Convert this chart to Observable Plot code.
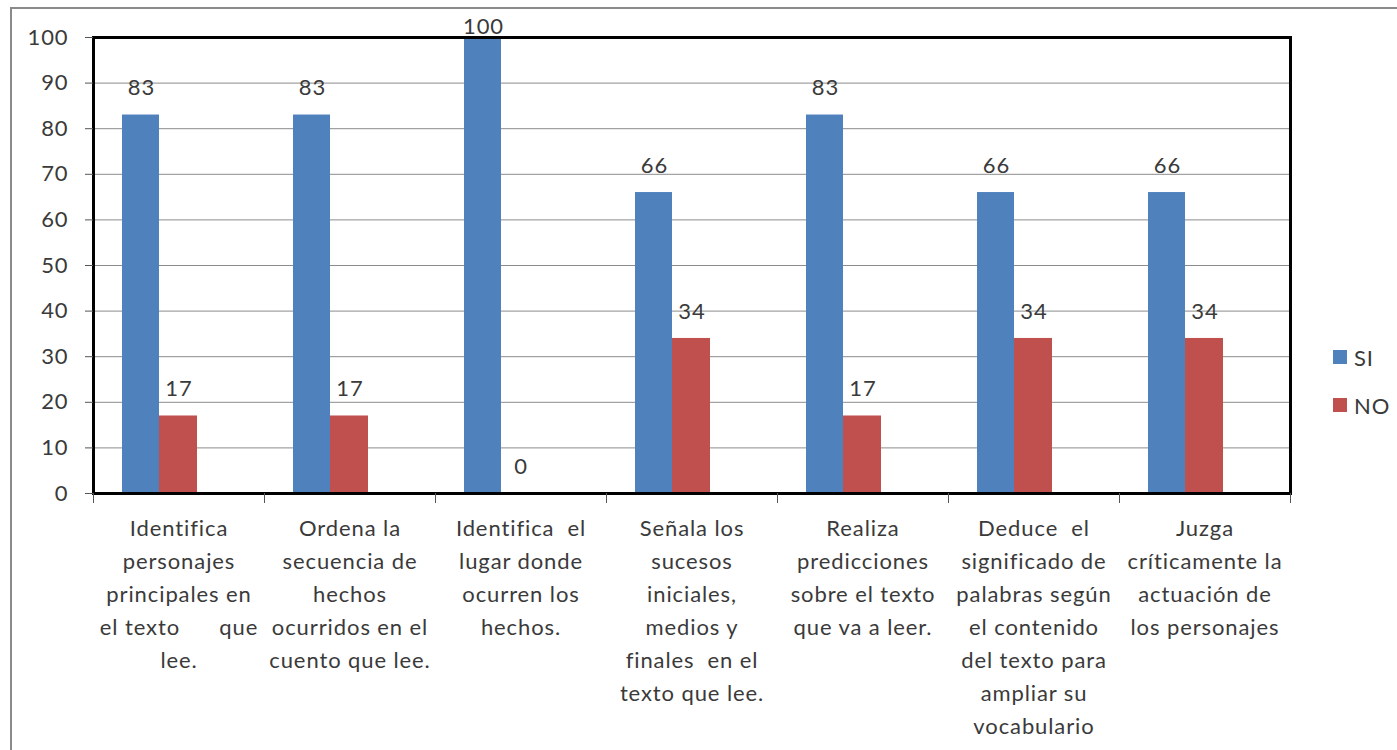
<!DOCTYPE html>
<html>
<head>
<meta charset="utf-8">
<script src="https://cdn.jsdelivr.net/npm/d3@7"></script>
<script src="https://cdn.jsdelivr.net/npm/@observablehq/plot@0.6"></script>
<style>
  html, body { margin: 0; padding: 0; background: #fff; overflow: hidden; }
  #wrap { position: relative; width: 1397px; height: 750px; }
  #frame { position: absolute; left: 10px; top: 7px; width: 1500px; height: 900px; border: 2px solid #8a8a8a; box-sizing: border-box; }
  #chart { position: absolute; left: 0; top: 0; }
  #chart svg text { white-space: pre; letter-spacing: 0.9px; }
  #legend { position: absolute; left: 1333px; top: 333px; font-family: Lato, sans-serif; font-size: 22px; color: #3a3a3a; letter-spacing: 0.9px; }
  .item { display: flex; align-items: center; height: 48px; }
  .sw { width: 14px; height: 14px; margin-right: 7px; }
</style>
</head>
<body>
<div id="wrap">
  <div id="frame"></div>
  <div id="chart"></div>
  <div id="legend"></div>
</div>
<script>
const categories = [
  "Identifica\npersonajes\nprincipales en\nel texto      que\nlee.",
  "Ordena la\nsecuencia de\nhechos\nocurridos en el\ncuento que lee.",
  "Identifica  el\nlugar donde\nocurren los\nhechos.",
  "Señala los\nsucesos\niniciales,\nmedios y\nfinales  en el\ntexto que lee.",
  "Realiza\npredicciones\nsobre el texto\nque va a leer.",
  "Deduce  el\nsignificado de\npalabras según\nel contenido\ndel texto para\nampliar su\nvocabulario",
  "Juzga\ncríticamente la\nactuación de\nlos personajes"
];
const series = ["SI", "NO"];
const siValues = [83, 83, 100, 66, 83, 66, 66];
const noValues = [17, 17, 0, 34, 17, 34, 34];
const yTicks = [0, 10, 20, 30, 40, 50, 60, 70, 80, 90, 100];
const colors = ["#4F81BD", "#C0504D"];

const siData = categories.map((c, i) => ({cat: c, serie: "SI", v: siValues[i]}));
const noData = categories.map((c, i) => ({cat: c, serie: "NO", v: noValues[i]}));
const lastCat = [categories[categories.length - 1]];

const textColor = "#3a3a3a";

const chart = Plot.plot({
  width: 1397,
  height: 750,
  marginLeft: 93,
  marginRight: 107,
  marginTop: 37,
  marginBottom: 257,
  style: {fontFamily: "Lato, sans-serif", fontSize: "22px", color: textColor, background: "transparent"},
  x: {type: "band", domain: categories, padding: 0, axis: null},
  y: {domain: [0, 100], axis: null},
  color: {domain: series, range: colors},
  marks: [
    Plot.ruleY(yTicks, {stroke: "#8c8c8c", strokeWidth: 1}),
    Plot.rectY(siData, {x: "cat", y: "v", fill: "serie", insetLeft: 29, insetRight: 105}),
    Plot.rectY(noData, {x: "cat", y: "v", fill: "serie", insetLeft: 66, insetRight: 67}),
    Plot.text(siData, {x: "cat", y: d => Math.min(d.v, 96.3), text: d => String(d.v), dx: -37.5, dy: -27, fill: textColor, fontSize: 22}),
    Plot.text(noData, {x: "cat", y: "v", text: d => String(d.v), dx: 0, dy: -27, fill: textColor, fontSize: 22}),
    Plot.frame({stroke: "black", strokeWidth: 3}),
    Plot.ruleX(categories, {x: d => d, dx: -85.5, y1: 0, y2: 0, insetBottom: -10, stroke: "#555"}),
    Plot.ruleX(lastCat, {x: d => d, dx: 85.5, y1: 0, y2: 0, insetBottom: -10, stroke: "#555"}),
    Plot.axisY({ticks: yTicks, tickSize: 8, tickPadding: 17, label: null, fontSize: 22, stroke: "#555", fill: textColor}),
    Plot.text(categories, {x: d => d, y: 0, text: d => d, lineAnchor: "top", dy: 19, lineHeight: 1.5, fill: textColor, fontSize: 22})
  ]
});
document.getElementById("chart").appendChild(chart);

const legend = document.getElementById("legend");
series.forEach((s, i) => {
  const item = document.createElement("div");
  item.className = "item";
  const sw = document.createElement("div");
  sw.className = "sw";
  sw.style.background = colors[i];
  const label = document.createElement("span");
  label.textContent = s;
  item.appendChild(sw);
  item.appendChild(label);
  legend.appendChild(item);
});
</script>
</body>
</html>
